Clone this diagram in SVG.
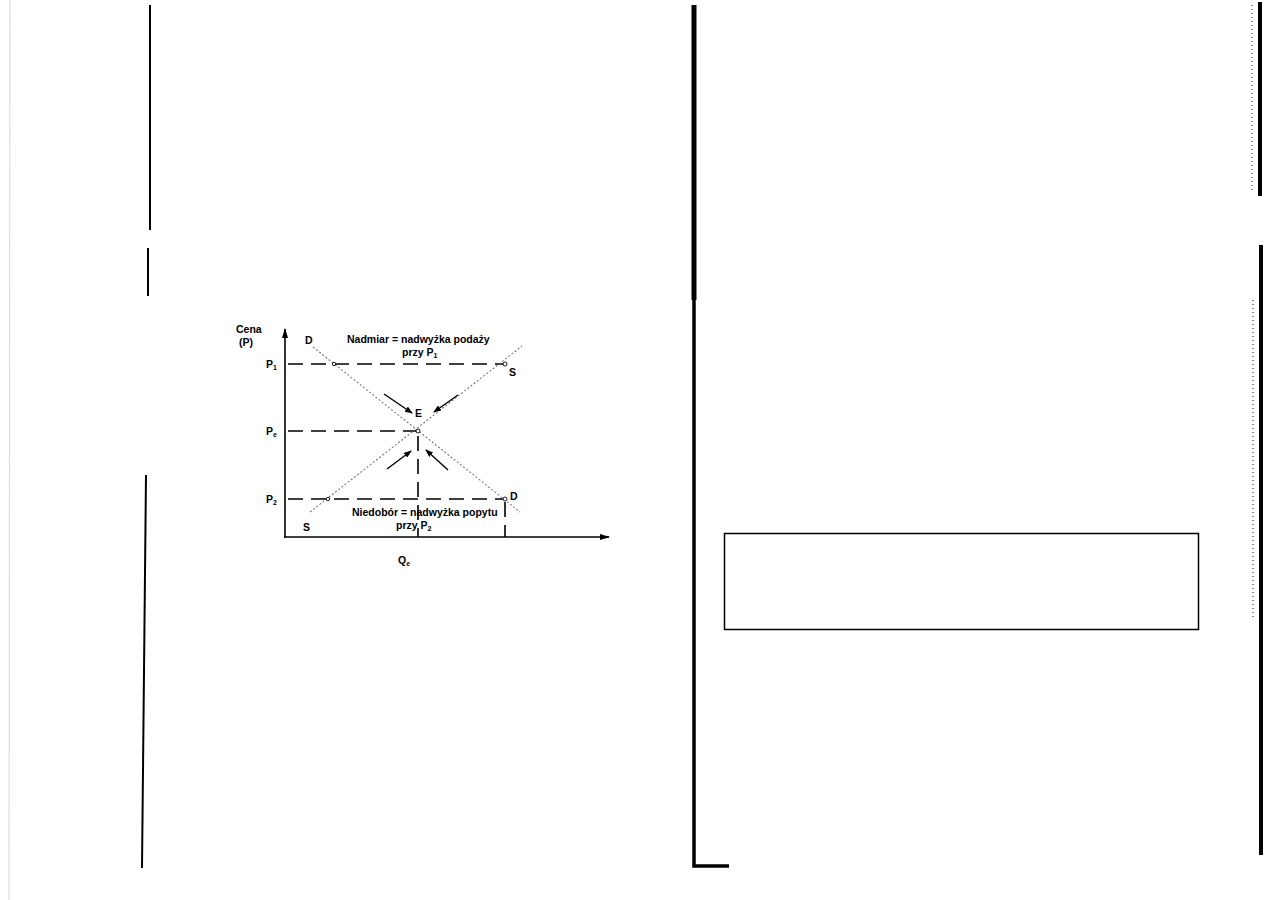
<svg xmlns="http://www.w3.org/2000/svg" width="1268" height="900" viewBox="0 0 1268 900">
<defs>
<style>
text{font-family:"Liberation Sans",Arial,sans-serif;font-weight:bold;font-size:10.5px;fill:#000}
.dash{stroke:#000;stroke-width:1.6;stroke-dasharray:15 8;fill:none}
.curve{stroke:#777;stroke-width:1.1;stroke-dasharray:2 2;fill:none}
.axis{stroke:#000;stroke-width:1.6;fill:none}
.arr{stroke:#000;stroke-width:1.4;fill:none;marker-end:url(#ah)}
.pt{fill:#fff;stroke:#000;stroke-width:0.9}
.edge{stroke:#000;fill:none}
</style>
<marker id="ah" markerWidth="8" markerHeight="6" refX="7" refY="3" orient="auto" markerUnits="userSpaceOnUse">
<path d="M0,0 L8,3 L0,6 z" fill="#000"/>
</marker>
<marker id="ax" markerWidth="10" markerHeight="6" refX="9" refY="3" orient="auto" markerUnits="userSpaceOnUse">
<path d="M0,0 L10,3 L0,6 z" fill="#000"/>
</marker>
</defs>
<rect width="1268" height="900" fill="#fff"/>
<g id="page">
<line x1="10" y1="0" x2="9" y2="900" stroke="#ccc" stroke-width="0.8"/>
<path class="edge" stroke-width="2" d="M150,5 L150,230 M148,248 L148,296 M146,475 L142,868"/>
<path class="edge" stroke-width="5" d="M694,5 L694,300"/>
<path class="edge" stroke-width="3.5" d="M694,298 L694,866 L729,866"/>
<rect x="724.5" y="533.5" width="474" height="96" fill="none" stroke="#000" stroke-width="1.5"/>
<path class="edge" stroke-width="4" d="M1260,2 L1260,196 M1261,245 L1261,855"/>
<path stroke="#888" stroke-width="2" stroke-dasharray="1 3" fill="none" d="M1252,5 L1252,190 M1253,300 L1253,620"/>
</g>
<g id="axes">
<line class="axis" x1="285" y1="538" x2="285" y2="329" marker-end="url(#ax)"/>
<line class="axis" x1="284" y1="537" x2="609" y2="537" marker-end="url(#ax)"/>
</g>
<g id="connectors">
<line class="dash" x1="288" y1="364" x2="505" y2="364"/>
<line class="dash" x1="288" y1="431" x2="418" y2="431"/>
<line class="dash" x1="288" y1="499" x2="505" y2="499"/>
<line class="dash" x1="418" y1="436" x2="418" y2="537"/>
<line class="dash" x1="505" y1="502" x2="505" y2="537"/>
<line class="curve" x1="310" y1="512" x2="522" y2="346"/>
<line class="curve" x1="313" y1="347" x2="520" y2="512"/>
<line class="arr" x1="384" y1="394" x2="412" y2="413"/>
<line class="arr" x1="458" y1="395" x2="434" y2="412"/>
<line class="arr" x1="387" y1="469" x2="411" y2="451"/>
<line class="arr" x1="448" y1="470" x2="426" y2="450"/>
</g>
<g id="points">
<circle class="pt" cx="418" cy="431" r="2"/>
<circle class="pt" cx="505" cy="364" r="2"/>
<circle class="pt" cx="505" cy="499" r="2"/>
<circle class="pt" cx="328" cy="499" r="1.7"/>
<circle class="pt" cx="334" cy="364" r="1.7"/>
</g>
<g id="labels">
<text x="236" y="333">Cena</text>
<text x="239" y="346">(P)</text>
<text x="266" y="368">P<tspan font-size="7" dy="2">1</tspan></text>
<text x="266" y="435">P<tspan font-size="7" dy="2">e</tspan></text>
<text x="266" y="503">P<tspan font-size="7" dy="2">2</tspan></text>
<text x="305" y="344">D</text>
<text x="347" y="343">Nadmiar = nadwyżka podaży</text>
<text x="402" y="356">przy P<tspan font-size="7" dy="2">1</tspan></text>
<text x="509" y="376">S</text>
<text x="415" y="417">E</text>
<text x="510" y="500">D</text>
<text x="303" y="531">S</text>
<text x="352" y="516">Niedobór = nadwyżka popytu</text>
<text x="396" y="529">przy P<tspan font-size="7" dy="2">2</tspan></text>
<text x="398" y="564">Q<tspan font-size="7" dy="2">e</tspan></text>
</g>
</svg>
